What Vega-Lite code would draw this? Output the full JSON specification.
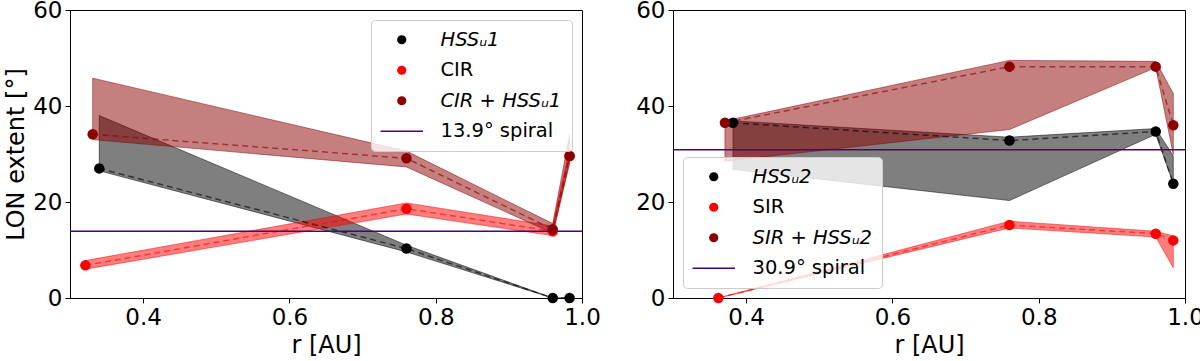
{
  "$schema": "https://vega.github.io/schema/vega-lite/v6.json",
  "padding": {"left": 4, "top": -2, "right": 0, "bottom": 0},
  "spacing": 34,
  "config": {
    "font": "DejaVu Sans",
    "view": {"stroke": "black", "strokeWidth": 1},
    "axis": {
      "labelFont": "DejaVu Sans", "titleFont": "DejaVu Sans",
      "labelFontSize": 23, "titleFontSize": 24, "titleFontWeight": "normal",
      "labelColor": "black", "titleColor": "black",
      "tickColor": "black", "domainColor": "black", "tickSize": 5,
      "labelPadding": 3, "grid": false, "labelFlush": false
    },
    "legend": {
      "labelFont": "DejaVu Sans", "labelFontSize": 19.5, "labelColor": "black",
      "fillColor": "rgba(255,255,255,0.8)", "strokeColor": "#cccccc",
      "cornerRadius": 4, "padding": 10, "offset": 10, "rowPadding": 9.5,
      "symbolSize": 85, "symbolOpacity": 1, "symbolStrokeWidth": 0,
      "symbolOffset": 11, "labelOffset": 29
    }
  },
  "datasets": {
    "left": [
      {"series": "HSSᵤ1", "r": 0.340, "v": 27.0, "lo": 26.5, "hi": 38.0},
      {"series": "HSSᵤ1", "r": 0.760, "v": 10.3, "lo": 9.6, "hi": 11.0},
      {"series": "HSSᵤ1", "r": 0.960, "v": 0.0, "lo": 0.0, "hi": 0.0},
      {"series": "HSSᵤ1", "r": 0.983, "v": 0.0, "lo": 0.0, "hi": 0.0},
      {"series": "CIR", "r": 0.321, "v": 6.8, "lo": 6.0, "hi": 7.8},
      {"series": "CIR", "r": 0.760, "v": 18.6, "lo": 17.5, "hi": 19.8},
      {"series": "CIR", "r": 0.960, "v": 13.9, "lo": 13.0, "hi": 15.0},
      {"series": "CIR", "r": 0.983, "v": 29.6, "lo": 28.5, "hi": 31.0},
      {"series": "CIR + HSSᵤ1", "r": 0.331, "v": 34.1, "lo": 33.0, "hi": 45.8},
      {"series": "CIR + HSSᵤ1", "r": 0.760, "v": 29.1, "lo": 27.3, "hi": 30.6},
      {"series": "CIR + HSSᵤ1", "r": 0.960, "v": 14.3, "lo": 13.5, "hi": 15.5},
      {"series": "CIR + HSSᵤ1", "r": 0.983, "v": 29.6, "lo": 28.0, "hi": 34.0},
      {"series": "13.9° spiral", "v": 13.9}
    ],
    "right": [
      {"series": "HSSᵤ2", "r": 0.382, "v": 36.5, "lo": 26.8, "hi": 36.9},
      {"series": "HSSᵤ2", "r": 0.760, "v": 32.8, "lo": 20.3, "hi": 33.5},
      {"series": "HSSᵤ2", "r": 0.960, "v": 34.7, "lo": 34.1, "hi": 35.3},
      {"series": "HSSᵤ2", "r": 0.984, "v": 23.8, "lo": 23.8, "hi": 29.6},
      {"series": "SIR", "r": 0.362, "v": 0.0, "lo": 0.0, "hi": 0.0},
      {"series": "SIR", "r": 0.760, "v": 15.2, "lo": 14.6, "hi": 16.0},
      {"series": "SIR", "r": 0.960, "v": 13.4, "lo": 12.7, "hi": 13.9},
      {"series": "SIR", "r": 0.984, "v": 12.0, "lo": 6.3, "hi": 12.9},
      {"series": "SIR + HSSᵤ2", "r": 0.371, "v": 36.5, "lo": 28.5, "hi": 36.9},
      {"series": "SIR + HSSᵤ2", "r": 0.760, "v": 48.2, "lo": 35.1, "hi": 49.5},
      {"series": "SIR + HSSᵤ2", "r": 0.960, "v": 48.2, "lo": 48.0, "hi": 49.3},
      {"series": "SIR + HSSᵤ2", "r": 0.984, "v": 36.0, "lo": 29.9, "hi": 42.6},
      {"series": "30.9° spiral", "v": 30.9}
    ]
  },
  "resolve": {"scale": {"color": "independent", "stroke": "independent", "shape": "independent"}, "legend": {"color": "independent", "shape": "independent"}},
  "hconcat": [
    {
      "width": 512, "height": 288,
      "data": {"name": "left"},
      "encoding": {
        "color": {
          "field": "series", "type": "nominal",
          "scale": {"domain": ["HSSᵤ1", "CIR", "CIR + HSSᵤ1", "13.9° spiral"], "range": ["#000000", "#ff0000", "#8b0000", "#4b0082"]},
          "legend": {
            "title": null, "orient": "top-right",
            "encode": {
              "labels": {"update": {
                "fontStyle": {"signal": "indexof(datum.label, 'HSS') >= 0 ? 'italic' : 'normal'"}
              }}
            }
          }
        }
      },
      "layer": [
        {
          "transform": [{"filter": "indexof(datum.series, 'spiral') < 0"}],
          "mark": {"type": "area", "fillOpacity": 0.5, "strokeOpacity": 0.5, "strokeWidth": 1},
          "encoding": {
            "x": {"field": "r", "type": "quantitative", "scale": {"domain": [0.3, 1.0], "nice": false, "zero": false}, "axis": {"title": "r [AU]", "values": [0.4, 0.6, 0.8, 1.0], "format": ".1f"}},
            "y": {"field": "lo", "type": "quantitative", "scale": {"domain": [0, 60], "nice": false}, "axis": {"title": "LON extent [°]", "values": [0, 20, 40, 60], "titlePadding": 4}},
            "y2": {"field": "hi"},
            "stroke": {"field": "series", "type": "nominal", "scale": {"domain": ["HSSᵤ1", "CIR", "CIR + HSSᵤ1"], "range": ["#000000", "#ff0000", "#8b0000"]}, "legend": null}
          }
        },
        {
          "transform": [{"filter": "indexof(datum.series, 'spiral') < 0"}],
          "mark": {"type": "line", "strokeDash": [6, 4], "strokeWidth": 1.5, "opacity": 0.6},
          "encoding": {
            "x": {"field": "r", "type": "quantitative", "scale": {"domain": [0.3, 1.0], "nice": false, "zero": false}, "axis": {"title": "r [AU]", "values": [0.4, 0.6, 0.8, 1.0], "format": ".1f"}},
            "y": {"field": "v", "type": "quantitative", "scale": {"domain": [0, 60], "nice": false}, "axis": {"title": "LON extent [°]", "values": [0, 20, 40, 60], "titlePadding": 4}}
          }
        },
        {
          "mark": {"type": "rule", "strokeWidth": 1.5},
          "transform": [{"filter": "indexof(datum.series, 'spiral') >= 0"}],
          "encoding": {
            "y": {"field": "v", "type": "quantitative", "scale": {"domain": [0, 60], "nice": false}, "axis": {"title": "LON extent [°]", "values": [0, 20, 40, 60], "titlePadding": 4}}
          }
        },
        {
          "transform": [{"filter": "indexof(datum.series, 'spiral') < 0"}],
          "mark": {"type": "point", "filled": true, "size": 110, "opacity": 1},
          "encoding": {
            "x": {"field": "r", "type": "quantitative", "scale": {"domain": [0.3, 1.0], "nice": false, "zero": false}, "axis": {"title": "r [AU]", "values": [0.4, 0.6, 0.8, 1.0], "format": ".1f"}},
            "y": {"field": "v", "type": "quantitative", "scale": {"domain": [0, 60], "nice": false}, "axis": {"title": "LON extent [°]", "values": [0, 20, 40, 60], "titlePadding": 4}},
            "shape": {"field": "series", "type": "nominal", "scale": {"domain": ["HSSᵤ1", "CIR", "CIR + HSSᵤ1", "13.9° spiral"], "range": ["circle", "circle", "circle", "M-4.6,-0.16H4.6V0.16H-4.6Z"]}, "legend": {"title": null, "orient": "top-right"}}
          }
        }
      ]
    },
    {
      "width": 512, "height": 288,
      "data": {"name": "right"},
      "encoding": {
        "color": {
          "field": "series", "type": "nominal",
          "scale": {"domain": ["HSSᵤ2", "SIR", "SIR + HSSᵤ2", "30.9° spiral"], "range": ["#000000", "#ff0000", "#8b0000", "#4b0082"]},
          "legend": {
            "title": null, "orient": "bottom-left",
            "encode": {
              "labels": {"update": {
                "fontStyle": {"signal": "indexof(datum.label, 'HSS') >= 0 ? 'italic' : 'normal'"}
              }}
            }
          }
        }
      },
      "layer": [
        {
          "transform": [{"filter": "indexof(datum.series, 'spiral') < 0"}],
          "mark": {"type": "area", "fillOpacity": 0.5, "strokeOpacity": 0.5, "strokeWidth": 1},
          "encoding": {
            "x": {"field": "r", "type": "quantitative", "scale": {"domain": [0.3, 1.0], "nice": false, "zero": false}, "axis": {"title": "r [AU]", "values": [0.4, 0.6, 0.8, 1.0], "format": ".1f"}},
            "y": {"field": "lo", "type": "quantitative", "scale": {"domain": [0, 60], "nice": false}, "axis": {"title": null, "values": [0, 20, 40, 60]}},
            "y2": {"field": "hi"},
            "stroke": {"field": "series", "type": "nominal", "scale": {"domain": ["HSSᵤ2", "SIR", "SIR + HSSᵤ2"], "range": ["#000000", "#ff0000", "#8b0000"]}, "legend": null}
          }
        },
        {
          "transform": [{"filter": "indexof(datum.series, 'spiral') < 0"}],
          "mark": {"type": "line", "strokeDash": [6, 4], "strokeWidth": 1.5, "opacity": 0.6},
          "encoding": {
            "x": {"field": "r", "type": "quantitative", "scale": {"domain": [0.3, 1.0], "nice": false, "zero": false}, "axis": {"title": "r [AU]", "values": [0.4, 0.6, 0.8, 1.0], "format": ".1f"}},
            "y": {"field": "v", "type": "quantitative", "scale": {"domain": [0, 60], "nice": false}, "axis": {"title": null, "values": [0, 20, 40, 60]}}
          }
        },
        {
          "mark": {"type": "rule", "strokeWidth": 1.5},
          "transform": [{"filter": "indexof(datum.series, 'spiral') >= 0"}],
          "encoding": {
            "y": {"field": "v", "type": "quantitative", "scale": {"domain": [0, 60], "nice": false}, "axis": {"title": null, "values": [0, 20, 40, 60]}}
          }
        },
        {
          "transform": [{"filter": "indexof(datum.series, 'spiral') < 0"}],
          "mark": {"type": "point", "filled": true, "size": 110, "opacity": 1},
          "encoding": {
            "x": {"field": "r", "type": "quantitative", "scale": {"domain": [0.3, 1.0], "nice": false, "zero": false}, "axis": {"title": "r [AU]", "values": [0.4, 0.6, 0.8, 1.0], "format": ".1f"}},
            "y": {"field": "v", "type": "quantitative", "scale": {"domain": [0, 60], "nice": false}, "axis": {"title": null, "values": [0, 20, 40, 60]}},
            "shape": {"field": "series", "type": "nominal", "scale": {"domain": ["HSSᵤ2", "SIR", "SIR + HSSᵤ2", "30.9° spiral"], "range": ["circle", "circle", "circle", "M-4.6,-0.16H4.6V0.16H-4.6Z"]}, "legend": {"title": null, "orient": "bottom-left"}}
          }
        }
      ]
    }
  ]
}
